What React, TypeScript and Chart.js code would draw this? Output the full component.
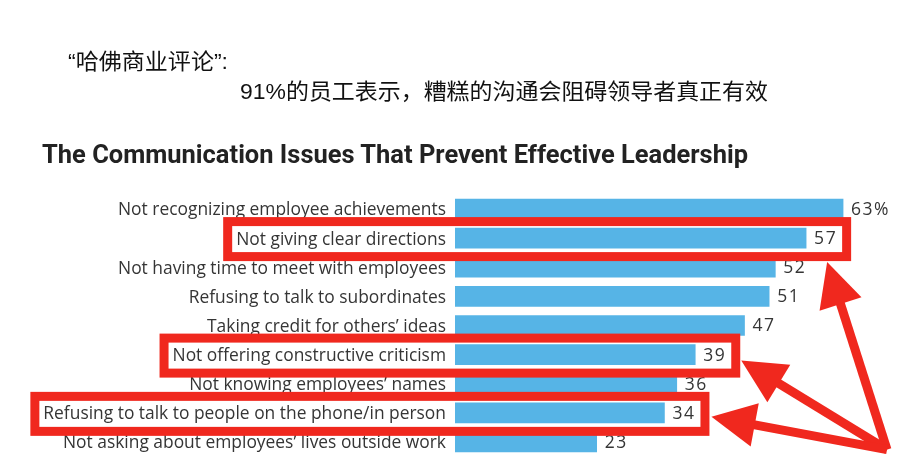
import React, { useEffect, useRef } from "react";
import { Chart, registerables } from "chart.js";

Chart.register(...registerables);

const categories = [
  "Not recognizing employee achievements",
  "Not giving clear directions",
  "Not having time to meet with employees",
  "Refusing to talk to subordinates",
  "Taking credit for others’ ideas",
  "Not offering constructive criticism",
  "Not knowing employees’ names",
  "Refusing to talk to people on the phone/in person",
  "Not asking about employees’ lives outside work",
];
const values = [63, 57, 52, 51, 47, 39, 36, 34, 23];
const valueLabels = ["63%", "57", "52", "51", "47", "39", "36", "34", "23"];
const highlighted = [1, 5, 7];
const headerLine1 = "“哈佛商业评论”:";
const headerLine2 = "91%的员工表示，糟糕的沟通会阻碍领导者真正有效";
const chartTitle = "The Communication Issues That Prevent Effective Leadership";

const BAR = "#56b4e6";
const RED = "#f0281e";
const TEXT = "#353535";
const LABEL_FAMILY = "'Open Sans'";
const LABEL_SIZE = 17.4;
const VALUE_FONT = "17.5px 'Open Sans'";
const TICK_PAD = 9;

const annotPlugin = {
  id: "annot",
  afterDatasetsDraw(chart: any) {
    const ctx = chart.ctx as CanvasRenderingContext2D;
    const xs = chart.scales.x;
    const ys = chart.scales.y;
    const meta = chart.getDatasetMeta(0);
    ctx.save();
    // value labels
    ctx.font = VALUE_FONT;
    ctx.fillStyle = TEXT;
    ctx.textBaseline = "middle";
    ctx.textAlign = "left";
    (ctx as any).letterSpacing = "1.5px";
    const valueEnds: number[] = [];
    meta.data.forEach((bar: any, i: number) => {
      const tx = xs.getPixelForValue(values[i]) + 8;
      ctx.fillText(valueLabels[i], tx, bar.y + 1);
      valueEnds[i] = tx + ctx.measureText(valueLabels[i]).width;
    });
    (ctx as any).letterSpacing = "0px";
    // boxes
    ctx.font = `${LABEL_SIZE}px ${LABEL_FAMILY}`;
    const labelRight = ys.right - TICK_PAD;
    const boxes: any[] = [];
    ctx.strokeStyle = RED;
    ctx.lineWidth = 9;
    highlighted.forEach((i) => {
      const bar = meta.data[i];
      const w = ctx.measureText(categories[i]).width;
      const l = labelRight - w - 4;
      const r = valueEnds[i] + 5;
      const t = bar.y - 12;
      const b = bar.y + 14;
      ctx.strokeRect(l - 4.5, t - 4.5, r - l + 9, b - t + 9);
      boxes.push({ l: l - 9, r: r + 9, t: t - 9, b: b + 9, cy: bar.y });
    });
    // arrows
    const ox = chart.width - 33;
    const oy = ys.bottom - 7;
    const tips = [
      [boxes[0].r - 24, boxes[0].b + 1],
      [boxes[1].r + 1, boxes[1].cy + 6],
      [boxes[2].r + 2, boxes[2].cy + 4],
    ];
    ctx.fillStyle = RED;
    ctx.lineCap = "butt";
    tips.forEach(([tx, ty]) => {
      const dx = tx - ox;
      const dy = ty - oy;
      const len = Math.hypot(dx, dy);
      const ux = dx / len;
      const uy = dy / len;
      const headLen = 44;
      const half = 22;
      const bx = tx - ux * headLen;
      const by = ty - uy * headLen;
      ctx.lineWidth = 9;
      ctx.beginPath();
      ctx.moveTo(ox, oy);
      ctx.lineTo(bx + ux * 4, by + uy * 4);
      ctx.stroke();
      ctx.beginPath();
      ctx.moveTo(tx, ty);
      ctx.lineTo(bx - uy * half, by + ux * half);
      ctx.lineTo(bx + uy * half, by - ux * half);
      ctx.closePath();
      ctx.fill();
    });
    ctx.restore();
  },
};

function FitText(props: { text: string; left: number; top: number; width: number; style: any }) {
  const ref = useRef<HTMLDivElement>(null);
  useEffect(() => {
    const el = ref.current;
    if (!el) return;
    el.style.transform = "none";
    const w = el.getBoundingClientRect().width;
    if (w > 0) el.style.transform = `scaleX(${props.width / w})`;
  }, []);
  return (
    <div
      ref={ref}
      style={{
        position: "absolute",
        left: props.left,
        top: props.top,
        whiteSpace: "nowrap",
        transformOrigin: "0 0",
        display: "inline-block",
        ...props.style,
      }}
    >
      {props.text}
    </div>
  );
}

export default function App() {
  const canvasRef = useRef<HTMLCanvasElement>(null);
  useEffect(() => {
    const canvas = canvasRef.current;
    if (!canvas) return;
    const chart = new Chart(canvas, {
      type: "bar",
      data: {
        labels: categories,
        datasets: [
          {
            data: values,
            backgroundColor: BAR,
            borderWidth: 0,
            barThickness: 20,
          },
        ],
      },
      options: {
        indexAxis: "y",
        animation: false,
        responsive: false,
        devicePixelRatio: 1,
        layout: { padding: { top: 194.4, bottom: 18.4, right: 33.8, left: 0 } },
        plugins: { legend: { display: false }, tooltip: { enabled: false }, title: { display: false } },
        scales: {
          x: { display: false, min: 0, max: 70 },
          y: {
            grid: { display: false, drawTicks: false },
            border: { display: false },
            ticks: {
              font: { family: LABEL_FAMILY, size: LABEL_SIZE },
              color: TEXT,
              padding: TICK_PAD,
              autoSkip: false,
              labelOffset: 1.5,
            },
            afterFit(scale: any) {
              scale.width = 455;
            },
          },
        },
      } as any,
      plugins: [annotPlugin],
    });
    return () => chart.destroy();
  }, []);
  return (
    <div style={{ position: "absolute", left: 0, top: 0, width: 920, height: 476, overflow: "hidden", background: "#fff" }}>
      <canvas ref={canvasRef} width={920} height={476} style={{ position: "absolute", left: 0, top: 0 }} />
      <FitText
        text={headerLine1}
        left={68}
        top={50}
        width={160}
        style={{ fontFamily: "'Liberation Sans', 'Noto Sans CJK SC'", fontSize: 22, lineHeight: "24px", color: "#111" }}
      />
      <FitText
        text={headerLine2}
        left={240}
        top={80}
        width={528}
        style={{ fontFamily: "'Liberation Sans', 'Noto Sans CJK SC'", fontSize: 22, lineHeight: "24px", color: "#111" }}
      />
      <FitText
        text={chartTitle}
        left={42}
        top={142}
        width={706}
        style={{ fontFamily: "Roboto", fontWeight: 700, fontSize: 25, lineHeight: "25px", color: "#222" }}
      />
    </div>
  );
}
